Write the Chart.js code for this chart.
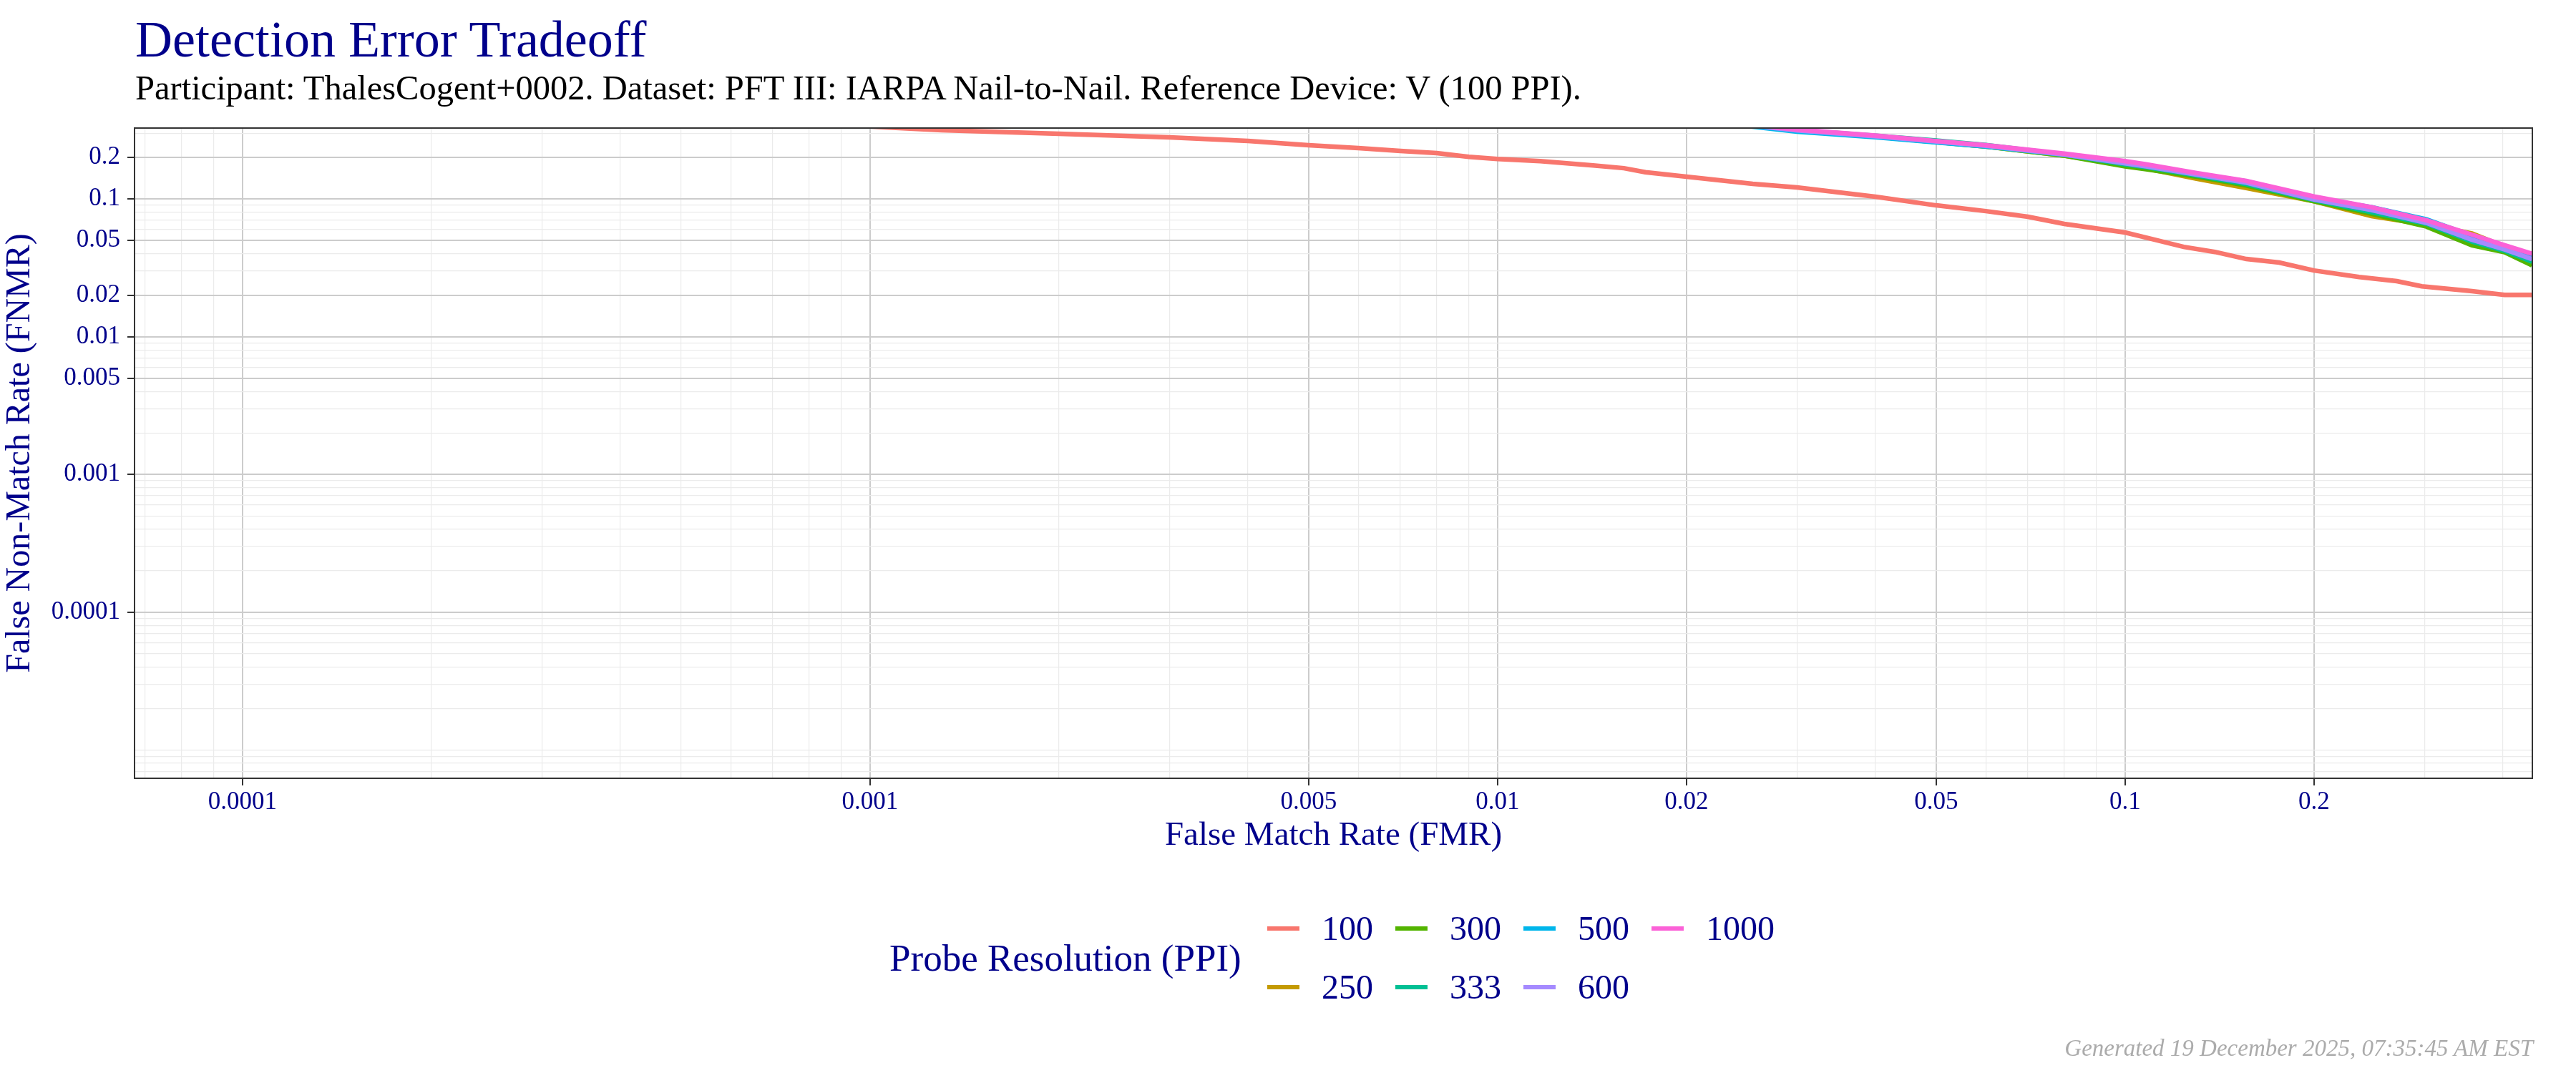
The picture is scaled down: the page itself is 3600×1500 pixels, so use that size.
<!DOCTYPE html>
<html>
<head>
<meta charset="utf-8">
<title>Detection Error Tradeoff</title>
<script src="https://cdn.jsdelivr.net/npm/chart.js@4.4.1/dist/chart.umd.min.js"></script>
<style>
  body { margin: 0; background: #fff; }
  #page { position: relative; width: 3600px; height: 1500px; font-family: "Liberation Serif", serif; }
  #chart { position: absolute; left: 0; top: 0; }
  .txt { position: absolute; white-space: nowrap; line-height: 1; }
  #title { left: 189px; top: 19px; font-size: 72px; color: #00008b; }
  #subtitle { left: 189px; top: 99px; font-size: 48.5px; color: #000; }
  #footer { right: 60px; top: 1449px; font-size: 33px; font-style: italic; color: #ababab; }
  #legend-title { left: 1243px; top: 1313px; font-size: 53px; color: #00008b; }
  #legend { position: absolute; left: 1771px; top: 1257px; display: grid;
            grid-template-columns: repeat(4, 179px); grid-template-rows: 82px 82px; grid-auto-flow: column; }
  .key { display: flex; align-items: center; font-size: 48px; line-height: 1; color: #00008b; }
  .swatch { width: 45px; height: 6px; margin-right: 31px; }
</style>
</head>
<body>
<div id="page">
  <canvas id="chart" width="3600" height="1500"></canvas>
  <div id="title" class="txt">Detection Error Tradeoff</div>
  <div id="subtitle" class="txt">Participant: ThalesCogent+0002. Dataset: PFT III: IARPA Nail-to-Nail. Reference Device: V (100 PPI).</div>
  <div id="legend-title" class="txt">Probe Resolution (PPI)</div>
  <div id="legend"></div>
  <div id="footer" class="txt">Generated 19 December 2025, 07:35:45 AM EST</div>
</div>
<script>
// --- data ---
const ppiLabels = ["100", "250", "300", "333", "500", "600", "1000"];
const ppiColors = ["#F8766D", "#C49A00", "#53B400", "#00C094", "#00B6EB", "#A58AFF", "#FB61D7"];

// 100 PPI probe sits well below the others
const fmr100 = [0.0009, 0.001044, 0.0013, 0.002, 0.003, 0.004, 0.005, 0.006, 0.007, 0.008, 0.009, 0.010,
  0.0117, 0.0142, 0.0159, 0.0172, 0.020, 0.0255, 0.030, 0.040, 0.050, 0.060, 0.070, 0.080, 0.100,
  0.108, 0.124, 0.139, 0.156, 0.176, 0.200, 0.236, 0.271, 0.297, 0.357, 0.4025, 0.445];
const fnmr100 = [0.345, 0.331, 0.315, 0.297, 0.280, 0.263, 0.245, 0.234, 0.223, 0.215, 0.202, 0.195,
  0.188, 0.175, 0.167, 0.156, 0.145, 0.1285, 0.121, 0.1036, 0.0897, 0.0815, 0.0741, 0.0658, 0.0570,
  0.0524, 0.0448, 0.0412, 0.0366, 0.0345, 0.0302, 0.0271, 0.0253, 0.0232, 0.0214, 0.0201, 0.0201];

// the higher resolutions share one FMR grid
const fmrHigh = [0.024, 0.030, 0.040, 0.050, 0.060, 0.080, 0.100, 0.108, 0.130, 0.156, 0.200, 0.247, 0.302, 0.357, 0.4025, 0.445];
const fnmr250  = [0.348, 0.313, 0.283, 0.259, 0.240, 0.206, 0.176, 0.166, 0.140, 0.120, 0.096, 0.075, 0.065, 0.056, 0.045, 0.0365];
const fnmr300  = [0.348, 0.314, 0.283, 0.259, 0.240, 0.206, 0.172, 0.164, 0.145, 0.125, 0.096, 0.078, 0.063, 0.046, 0.041, 0.033];
const fnmr333  = [0.350, 0.316, 0.287, 0.265, 0.246, 0.210, 0.178, 0.170, 0.148, 0.128, 0.098, 0.080, 0.066, 0.049, 0.042, 0.035];
const fnmr500  = [0.345, 0.308, 0.280, 0.257, 0.240, 0.209, 0.183, 0.175, 0.152, 0.134, 0.102, 0.087, 0.071, 0.054, 0.044, 0.0375];
const fnmr600  = [0.350, 0.314, 0.285, 0.261, 0.243, 0.210, 0.181, 0.172, 0.150, 0.131, 0.099, 0.083, 0.067, 0.0505, 0.043, 0.0365];
const fnmr1000 = [0.355, 0.318, 0.288, 0.263, 0.245, 0.213, 0.188, 0.178, 0.154, 0.135, 0.104, 0.087, 0.070, 0.055, 0.046, 0.040];

const breaks = [0.0001, 0.001, 0.005, 0.01, 0.02, 0.05, 0.1, 0.2];
const breakLabels = ["0.0001", "0.001", "0.005", "0.01", "0.02", "0.05", "0.1", "0.2"];
const xRange = [6.73e-5, 0.4456];
const yRange = [6.23e-6, 0.3266];

const seriesX = [fmr100, fmrHigh, fmrHigh, fmrHigh, fmrHigh, fmrHigh, fmrHigh];
const seriesY = [fnmr100, fnmr250, fnmr300, fnmr333, fnmr500, fnmr600, fnmr1000];

const navy = "#00008b";
Chart.defaults.font.family = "'Liberation Serif', serif";

const breakIndex = (v) => breaks.findIndex((b) => Math.abs(Math.log10(v / b)) < 1e-6);

// every k*10^n inside the range, ggplot-style minor grid
function logTicks(scale) {
  const out = [];
  for (let n = -7; n <= 0; n++) {
    for (let k = 1; k <= 9; k++) {
      const v = Number((k * Math.pow(10, n)).toPrecision(6));
      if (v >= scale.min && v <= scale.max) out.push({ value: v, major: breakIndex(v) >= 0 });
    }
  }
  scale.ticks = out;
}

const gridOpts = {
  color: (ctx) => (ctx.tick && ctx.tick.major ? "#cccccc" : "#ebebeb"),
  lineWidth: (ctx) => (ctx.tick && ctx.tick.major ? 2 : 1.2),
  tickColor: (ctx) => (ctx.tick && ctx.tick.major ? "#333333" : "rgba(0,0,0,0)"),
  tickWidth: 2,
  tickLength: 10,
};

const panelBorder = {
  id: "panelBorder",
  afterDatasetsDraw(c) {
    const a = c.chartArea, ctx = c.ctx;
    ctx.save();
    ctx.strokeStyle = "#333333";
    ctx.lineWidth = 2;
    ctx.strokeRect(a.left, a.top, a.right - a.left, a.bottom - a.top);
    ctx.restore();
  },
};

const datasets = ppiLabels.map((lab, i) => ({
  label: lab,
  data: seriesX[i].map((x, j) => ({ x, y: seriesY[i][j] })),
  borderColor: ppiColors[i],
  backgroundColor: ppiColors[i],
  borderWidth: 6.5,
  pointRadius: 0,
  tension: 0,
  clip: 0,
  order: ppiLabels.length - i,   // 1000 PPI ends up on top, as in the original
}));

new Chart(document.getElementById("chart").getContext("2d"), {
  type: "line",
  data: { datasets },
  plugins: [panelBorder],
  options: {
    responsive: false,
    devicePixelRatio: 1,
    animation: false,
    layout: { padding: { top: 179, right: 61, left: 0, bottom: 0 } },
    plugins: { legend: { display: false }, tooltip: { enabled: false } },
    scales: {
      x: {
        type: "logarithmic",
        min: xRange[0],
        max: xRange[1],
        bounds: "data",
        afterBuildTicks: logTicks,
        afterFit: (s) => { s.height = 412; },
        grid: gridOpts,
        border: { display: false },
        ticks: {
          autoSkip: false, maxRotation: 0, minRotation: 0, padding: 3,
          color: navy, font: { size: 35 },
          callback: (v) => { const i = breakIndex(v); return i >= 0 ? breakLabels[i] : ""; },
        },
        title: {
          display: true, text: "False Match Rate (FMR)", color: navy,
          font: { size: 47 }, padding: { top: 0, bottom: 303 },
        },
      },
      y: {
        type: "logarithmic",
        min: yRange[0],
        max: yRange[1],
        bounds: "data",
        afterBuildTicks: logTicks,
        afterFit: (s) => { s.width = 188; },
        grid: gridOpts,
        border: { display: false },
        ticks: {
          autoSkip: false, padding: 10,
          color: navy, font: { size: 35 },
          callback: (v) => { const i = breakIndex(v); return i >= 0 ? breakLabels[i] : ""; },
        },
        title: {
          display: true, text: "False Non-Match Rate (FNMR)", color: navy,
          font: { size: 48 }, padding: { top: 0, bottom: 0 },
        },
      },
    },
  },
});

// legend laid out column-wise like ggplot's 2-row guide
const legend = document.getElementById("legend");
ppiLabels.forEach((lab, i) => {
  const key = document.createElement("div");
  key.className = "key";
  const sw = document.createElement("span");
  sw.className = "swatch";
  sw.style.background = ppiColors[i];
  key.appendChild(sw);
  key.appendChild(document.createTextNode(lab));
  legend.appendChild(key);
});
</script>
</body>
</html>
